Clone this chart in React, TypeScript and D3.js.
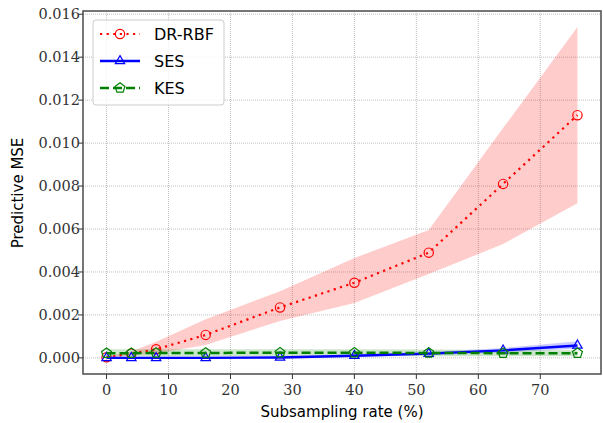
import * as d3 from 'd3';
import React, { useEffect, useRef } from 'react';

// subsampling rates (%)
const rates = [0, 4, 8, 16, 28, 40, 52, 64, 76];

const drMean = [0.00003, 0.0002, 0.0004, 0.00107, 0.00235, 0.0035, 0.0049, 0.0081, 0.0113];
const drLow = [0.00002, 0.00012, 0.0002, 0.0006, 0.00172, 0.00255, 0.0039, 0.0053, 0.0072];
const drHigh = [0.00005, 0.0003, 0.00075, 0.0018, 0.0031, 0.00465, 0.00595, 0.0107, 0.0154];

const sesMean = [0.0, 0.0, 0.0, 0.0, 0.00002, 0.0001, 0.0002, 0.00035, 0.00058];
const sesLow = [-0.00003, -0.00003, -0.00003, -0.00003, -0.00002, 0.00004, 0.00012, 0.00025, 0.00042];
const sesHigh = [0.00004, 0.00004, 0.00004, 0.00004, 0.00007, 0.00016, 0.00028, 0.00046, 0.00078];

const kesMean = [0.00022, 0.00022, 0.00023, 0.00023, 0.00024, 0.00024, 0.00023, 0.00022, 0.00022];
const kesLow = [0.00005, 0.00006, 0.00007, 0.00007, 0.00008, 0.00008, 0.00008, 0.00008, 0.00008];
const kesHigh = [0.0004, 0.0004, 0.0004, 0.0004, 0.0004, 0.0004, 0.00039, 0.00037, 0.00036];

const xTicks = [0, 10, 20, 30, 40, 50, 60, 70];
const yTicks = [0, 0.002, 0.004, 0.006, 0.008, 0.01, 0.012, 0.014, 0.016];

const series = [
    { name: 'DR-RBF', color: 'red', mean: drMean, low: drLow, high: drHigh, dash: '2.2,4.4', width: 2.2, marker: 'circle' },
    { name: 'SES', color: 'blue', mean: sesMean, low: sesLow, high: sesHigh, dash: null, width: 2.4, marker: 'triangle' },
    { name: 'KES', color: 'green', mean: kesMean, low: kesLow, high: kesHigh, dash: '9,4', width: 2.5, marker: 'pentagon' },
];

function markerPath(type: string) {
    if (type === 'circle') {
        return d3.symbol(d3.symbolCircle, 68)();
    }
    if (type === 'triangle') {
        const r = 5.4;
        return `M0,${-r}L${r * 0.87},${r * 0.5}L${-r * 0.87},${r * 0.5}Z`;
    }
    const r = 5.2;
    let p = '';
    for (let i = 0; i < 5; i++) {
        const a = -Math.PI / 2 + i * 2 * Math.PI / 5;
        p += (i === 0 ? 'M' : 'L') + (r * Math.cos(a)).toFixed(2) + ',' + (r * Math.sin(a)).toFixed(2);
    }
    return p + 'Z';
}

function App() {
    const ref = useRef<SVGSVGElement>(null);

    useEffect(() => {
        const svg = d3.select(ref.current);
        svg.selectAll('*').remove();

        const left = 83, right = 601, top = 11, bottom = 374;
        const x = d3.scaleLinear().domain([-3.8, 79.8]).range([left, right]);
        const y = d3.scaleLinear().domain([-0.00075, 0.01615]).range([bottom, top]);

        const g = svg.append('g');

        // grid
        g.selectAll('.gx').data(xTicks).enter().append('line')
            .attr('x1', d => x(d)).attr('x2', d => x(d))
            .attr('y1', top).attr('y2', bottom)
            .attr('stroke', '#b0b0b0').attr('stroke-width', 0.8).attr('stroke-dasharray', '1,1');
        g.selectAll('.gy').data(yTicks).enter().append('line')
            .attr('y1', d => y(d)).attr('y2', d => y(d))
            .attr('x1', left).attr('x2', right)
            .attr('stroke', '#b0b0b0').attr('stroke-width', 0.8).attr('stroke-dasharray', '1,1');

        // bands
        series.forEach(s => {
            const area = d3.area<number>()
                .x((d, i) => x(rates[i]))
                .y0((d, i) => y(s.low[i]))
                .y1((d, i) => y(s.high[i]));
            g.append('path').datum(s.mean).attr('d', area)
                .attr('fill', s.color).attr('fill-opacity', 0.2);
        });

        // lines and markers
        series.forEach(s => {
            const line = d3.line<number>().x((d, i) => x(rates[i])).y(d => y(d));
            g.append('path').datum(s.mean).attr('d', line)
                .attr('fill', 'none').attr('stroke', s.color)
                .attr('stroke-width', s.width)
                .attr('stroke-dasharray', s.dash);
            g.selectAll('.m' + s.name).data(s.mean).enter().append('path')
                .attr('d', markerPath(s.marker))
                .attr('transform', (d, i) => `translate(${x(rates[i])},${y(d)})`)
                .attr('fill', 'none').attr('stroke', s.color).attr('stroke-width', 1.2);
        });

        // frame
        g.append('rect').attr('x', left).attr('y', top)
            .attr('width', right - left).attr('height', bottom - top)
            .attr('fill', 'none').attr('stroke', '#555').attr('stroke-width', 1.6);

        // ticks
        g.selectAll('.tx').data(xTicks).enter().append('line')
            .attr('x1', d => x(d)).attr('x2', d => x(d))
            .attr('y1', bottom).attr('y2', bottom + 5)
            .attr('stroke', '#333').attr('stroke-width', 1);
        g.selectAll('.txl').data(xTicks).enter().append('text')
            .attr('x', d => x(d)).attr('y', bottom + 21)
            .attr('text-anchor', 'middle')
            .style('font-family', 'DejaVu Serif').style('font-size', '14.5px').attr('fill', '#333')
            .text(d => d);
        g.selectAll('.ty').data(yTicks).enter().append('line')
            .attr('y1', d => y(d)).attr('y2', d => y(d))
            .attr('x1', left - 5).attr('x2', left)
            .attr('stroke', '#333').attr('stroke-width', 1);
        g.selectAll('.tyl').data(yTicks).enter().append('text')
            .attr('x', left - 3).attr('y', d => y(d) + 5)
            .attr('text-anchor', 'end')
            .style('font-family', 'DejaVu Serif').style('font-size', '14.5px').attr('fill', '#333')
            .text(d => d3.format('.3f')(d));

        // axis labels
        g.append('text').attr('x', 342).attr('y', 417).attr('text-anchor', 'middle')
            .style('font-family', 'DejaVu Sans').style('font-size', '15px')
            .text('Subsampling rate (%)');
        g.append('text').attr('transform', 'translate(23,193) rotate(-90)').attr('text-anchor', 'middle')
            .style('font-family', 'DejaVu Sans').style('font-size', '15px')
            .text('Predictive MSE');

        // legend
        const lg = g.append('g');
        lg.append('rect').attr('x', 93).attr('y', 20).attr('width', 131).attr('height', 85)
            .attr('rx', 3).attr('fill', 'white').attr('fill-opacity', 0.8)
            .attr('stroke', '#ccc').attr('stroke-width', 1);
        series.forEach((s, i) => {
            const ly = 34 + i * 27;
            lg.append('line').attr('x1', 100).attr('x2', 140).attr('y1', ly).attr('y2', ly)
                .attr('stroke', s.color).attr('stroke-width', s.width)
                .attr('stroke-dasharray', s.dash);
            lg.append('path').attr('d', markerPath(s.marker))
                .attr('transform', `translate(120,${ly})`)
                .attr('fill', 'none').attr('stroke', s.color).attr('stroke-width', 1.2);
            lg.append('text').attr('x', 154).attr('y', ly + 6)
                .style('font-family', 'DejaVu Sans').style('font-size', '16px')
                .text(s.name);
        });
    }, []);

    return (
        <svg ref={ref} width={603} height={423} style={{ position: 'absolute', left: 0, top: 0, background: 'white' }}></svg>
    );
}

export default App;
